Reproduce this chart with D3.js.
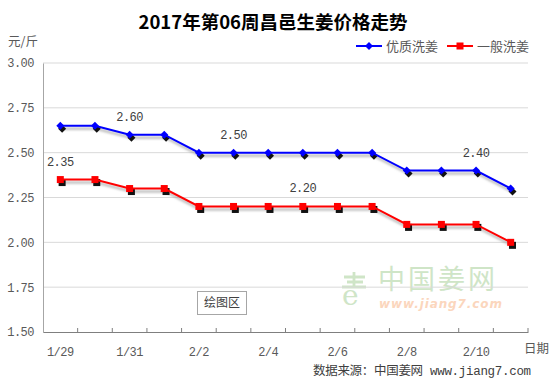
<!DOCTYPE html>
<html><head><meta charset="utf-8">
<script src="https://cdn.jsdelivr.net/npm/d3@7"></script>
<style>
body{margin:0;background:#fff;}
svg{display:block;}
.num{font-family:"Liberation Mono","DejaVu Sans Mono","Noto Sans CJK SC",monospace;}
.cjk{font-family:"Noto Sans CJK SC","Noto Sans",sans-serif;}
</style></head>
<body>
<svg id="c" width="550" height="379"></svg>
<script>
const categories = ["1/29","1/30","1/31","2/1","2/2","2/3","2/4","2/5","2/6","2/7","2/8","2/9","2/10","2/11"];
const seriesNames = ["优质洗姜","一般洗姜"];
const premium = [2.65,2.65,2.60,2.60,2.50,2.50,2.50,2.50,2.50,2.50,2.40,2.40,2.40,2.30];
const ordinary = [2.35,2.35,2.30,2.30,2.20,2.20,2.20,2.20,2.20,2.20,2.10,2.10,2.10,2.00];
const premiumLabelIdx = [2,5,12];
const ordinaryLabelIdx = [0,7];
const yTicks = [1.50,1.75,2.00,2.25,2.50,2.75,3.00];
const titleText = "2017年第06周昌邑生姜价格走势";
const yUnit = "元/斤";
const xName = "日期";
const sourceText = "数据来源：中国姜网 www.jiang7.com";

const svg = d3.select("#c");
const L=43,R=528,T=63,B=332;
const x = d3.scaleBand().domain(categories).range([L,R]);
const y = d3.scaleLinear().domain([1.5,3.0]).range([B,T]);
const cx = c => x(c)+x.bandwidth()/2;

const defs = svg.append("defs");
const f = defs.append("filter").attr("id","blur").attr("x","-10%").attr("y","-50%").attr("width","120%").attr("height","200%");
f.append("feGaussianBlur").attr("stdDeviation",1.2);

// title
svg.append("text").attr("class","cjk").attr("x",273).attr("y",29).attr("text-anchor","middle")
  .attr("font-size",18.5).attr("font-weight","bold").attr("fill","#000").text(titleText);
svg.append("text").attr("class","cjk").attr("x",8).attr("y",46).attr("font-size",12.5).attr("fill","#595959").text(yUnit);

// watermark (behind gridlines)
const wm = svg.append("g");
wm.append("text").attr("class","cjk").attr("x",378).attr("y",289).attr("font-size",27).attr("fill","#cfe5c7").attr("letter-spacing","3").text("中国姜网");
wm.append("text").attr("x",379).attr("y",308).attr("font-family","DejaVu Sans, sans-serif").attr("font-size",12)
  .attr("font-style","italic").attr("font-weight","bold").attr("fill","#fbd6bd").attr("letter-spacing","0.9").text("www.jiang7.com");
wm.append("text").attr("x",342).attr("y",305).attr("font-family","DejaVu Serif, serif").attr("font-size",28).attr("fill","#cfe5c7").text("e");
wm.append("path").attr("d","M344 277 h21 M347 282 h16 M342 287 h24 M354 272 v15").attr("stroke","#cfe5c7").attr("stroke-width",2.8).attr("fill","none");

// gridlines
svg.append("g").selectAll("line").data(yTicks.filter(v=>v>1.5)).join("line")
  .attr("x1",L).attr("x2",R).attr("y1",d=>y(d)).attr("y2",d=>y(d)).attr("stroke","#d9d9d9").attr("stroke-width",1);

// y axis
const ya = svg.append("g").attr("transform",`translate(${L},0)`)
  .call(d3.axisLeft(y).tickValues(yTicks).tickFormat(d3.format(".2f")).tickSize(0).tickPadding(9));
ya.select(".domain").attr("stroke","#a6a6a6");
ya.selectAll("text").attr("class","num").attr("font-size",12).attr("fill","#595959").attr("letter-spacing","-0.5");

// x axis
const xa = svg.append("g").attr("transform",`translate(0,${B})`)
  .call(d3.axisBottom(x).tickFormat((d,i)=> i%2===0? d : "").tickSize(0).tickPadding(15));
xa.select(".domain").attr("stroke","#7f7f7f");
xa.selectAll("text").attr("class","num").attr("font-size",12).attr("fill","#595959").attr("letter-spacing","-0.5");
svg.append("g").selectAll("line").data(categories).join("line")
  .attr("x1",d=>x(d)+x.bandwidth()).attr("x2",d=>x(d)+x.bandwidth())
  .attr("y1",B).attr("y2",B-4).attr("stroke","#7f7f7f");
svg.append("text").attr("class","cjk").attr("x",524).attr("y",353).attr("font-size",12.5).attr("fill","#595959").text(xName);

// plot area label box
svg.append("rect").attr("x",197.5).attr("y",291.5).attr("width",49).attr("height",23).attr("fill","#fff").attr("stroke","#a6a6a6");
svg.append("text").attr("class","cjk").attr("x",222).attr("y",307).attr("text-anchor","middle").attr("font-size",12).attr("fill","#404040").text("绘图区");

// series
const line = d3.line().x((d,i)=>cx(categories[i])).y(d=>y(d));
const series = [
  {name:seriesNames[0], data:premium, color:"#0000ff", shape:"diamond", labels:premiumLabelIdx},
  {name:seriesNames[1], data:ordinary, color:"#ff0000", shape:"square", labels:ordinaryLabelIdx}
];
function marker(g, shape, px, py, fill){
  if(shape==="diamond"){
    g.append("path").attr("d",`M${px} ${py-4}L${px+4} ${py}L${px} ${py+4}L${px-4} ${py}Z`).attr("fill",fill);
  } else {
    g.append("rect").attr("x",px-3.5).attr("y",py-3.5).attr("width",7).attr("height",7).attr("fill",fill);
  }
}
series.forEach(s=>{
  const g = svg.append("g");
  g.append("path").datum(s.data).attr("d",line).attr("fill","none").attr("stroke","#888").attr("stroke-opacity",0.55)
    .attr("stroke-width",2.5).attr("transform","translate(1.5,3)").attr("filter","url(#blur)");
  s.data.forEach((v,i)=>marker(g,s.shape,cx(categories[i])+1.8,y(v)+3,"#111"));
  g.append("path").datum(s.data).attr("d",line).attr("fill","none").attr("stroke",s.color).attr("stroke-width",2);
  s.data.forEach((v,i)=>marker(g,s.shape,cx(categories[i]),y(v),s.color));
  s.labels.forEach(i=>{
    g.append("text").attr("class","num").attr("x",cx(categories[i])).attr("y",y(s.data[i])-14)
      .attr("text-anchor","middle").attr("font-size",12).attr("fill","#404040").attr("letter-spacing","-0.5")
      .text(d3.format(".2f")(s.data[i]));
  });
});

// legend
const lg = svg.append("g");
[[356,386],[447,477]].forEach((p,k)=>{
  const s = series[k];
  lg.append("line").attr("x1",p[0]).attr("x2",p[0]+26).attr("y1",46).attr("y2",46).attr("stroke",s.color).attr("stroke-width",2);
  marker(lg,s.shape,p[0]+13,46,s.color);
  lg.append("text").attr("class","cjk").attr("x",p[1]).attr("y",51).attr("font-size",13).attr("fill","#595959").text(s.name);
});

// source
svg.append("text").attr("class","num").attr("x",313).attr("y",375).attr("font-size",12.5).attr("fill","#404040").attr("letter-spacing","-0.3").text(sourceText);
</script>
</body></html>
